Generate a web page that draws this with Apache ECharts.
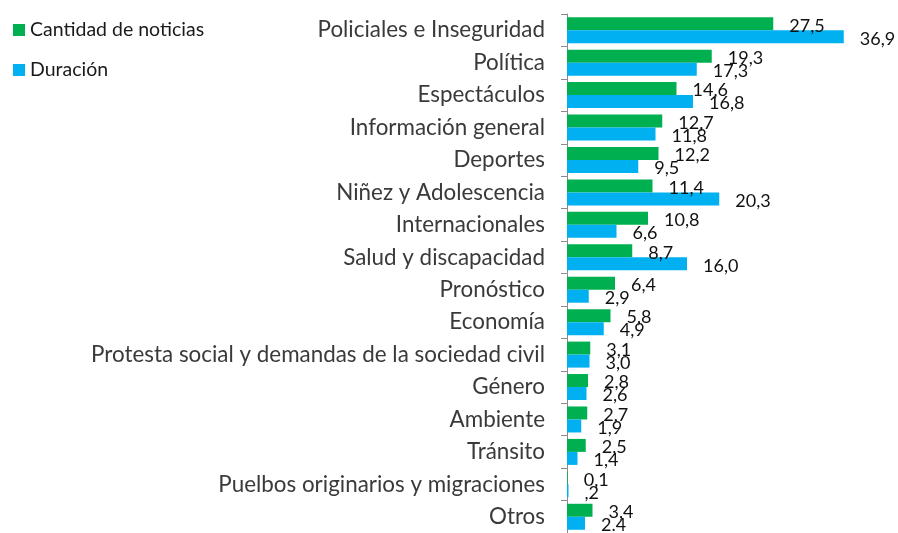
<!DOCTYPE html>
<html><head><meta charset="utf-8">
<script src="https://cdn.jsdelivr.net/npm/echarts@6/dist/echarts.min.js"></script>
<style>html,body{margin:0;padding:0;background:#fff}#c{width:898px;height:533px}</style>
</head><body><div id="c"></div>
<script>
const categories = ["Policiales e Inseguridad","Política","Espectáculos","Información general","Deportes","Niñez y Adolescencia","Internacionales","Salud y discapacidad","Pronóstico","Economía","Protesta social y demandas de la sociedad civil","Género","Ambiente","Tránsito","Puelbos originarios y migraciones","Otros"];
const cantidad = [27.5,19.3,14.6,12.7,12.2,11.4,10.8,8.7,6.4,5.8,3.1,2.8,2.7,2.5,0.1,3.4];
const duracion = [36.9,17.3,16.8,11.8,9.5,20.3,6.6,16.0,2.9,4.9,3.0,2.6,1.9,1.4,0.2,2.4];
const cantidadLabels = ["27,5","19,3","14,6","12,7","12,2","11,4","10,8","8,7","6,4","5,8","3,1","2,8","2,7","2,5","0,1","3,4"];
const duracionLabels = ["36,9","17,3","16,8","11,8","9,5","20,3","6,6","16,0","2,9","4,9","3,0","2,6","1,9","1,4",",2","2.4"];
const seriesNames = ["Cantidad de noticias","Duración"];

const font = "Lato, 'Open Sans', sans-serif";
const chart = echarts.init(document.getElementById('c'));
function lbl(arr){
  return {show:true, position:'right', distance:5, offset:[11,2], fontFamily:font, fontSize:18, color:'#111',
    formatter: p => arr[p.dataIndex]};
}
chart.setOption({
  animation:false,
  legend:{orient:'vertical', left:8, top:14, itemWidth:12, itemHeight:12, itemGap:18,
    icon:'rect', textStyle:{fontFamily:font, fontSize:19.5, color:'#1a1a1a', lineHeight:22},
    data:seriesNames},
  grid:{left:567, top:14, width:300, height:520, containLabel:false},
  xAxis:{type:'value', min:0, max:40, show:false},
  yAxis:{type:'category', inverse:true, data:categories,
    axisLine:{show:true, lineStyle:{color:'#8c8c8c'}},
    axisTick:{show:true, length:6, lineStyle:{color:'#8c8c8c'}},
    axisLabel:{fontFamily:font, fontSize:22.4, color:'#3a3a3a', margin:22}},
  series:[
    {name:seriesNames[0], type:'bar', data:cantidad, itemStyle:{color:'#00b050'},
      barWidth:13, barGap:'0%', label:lbl(cantidadLabels)},
    {name:seriesNames[1], type:'bar', data:duracion, itemStyle:{color:'#00b0f0'},
      barWidth:13, barGap:'0%', label:lbl(duracionLabels)}
  ]
});
</script></body></html>
